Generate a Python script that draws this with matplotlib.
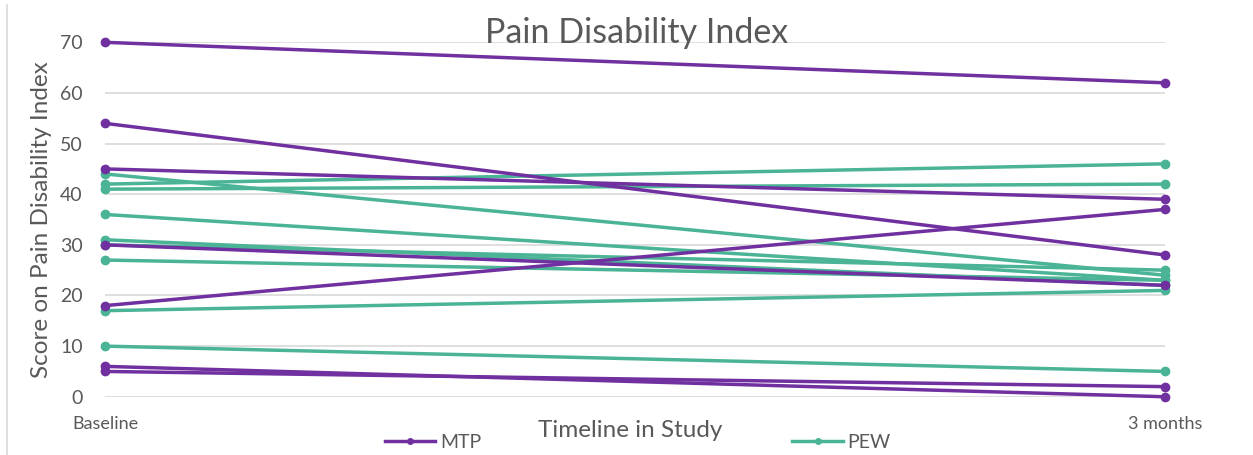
import matplotlib.pyplot as plt
from matplotlib.lines import Line2D

# paired scores per participant: baseline -> 3 months
categories = ['Baseline', '3 months']
mtp_baseline = [70, 54, 45, 30, 18, 6, 5]
mtp_3months = [62, 28, 39, 22, 37, 0, 2]
pew_baseline = [44, 42, 41, 36, 31, 30, 27, 17, 10]
pew_3months = [24, 46, 42, 23, 22, 25, 23, 21, 5]

PURPLE = '#7030A0'
TEAL = '#4BB496'
TXT = '#595959'

plt.rcParams['font.family'] = ['Lato', 'DejaVu Sans']


def main():
    fig = plt.figure(figsize=(12.53, 4.55), dpi=100)
    ax = fig.add_axes([0.0838, 0.128, 0.846, 0.779])

    x = [0, 1]
    for b, m in zip(pew_baseline, pew_3months):
        ax.plot(x, [b, m], color=TEAL, lw=2.5, marker='o', ms=6,
                clip_on=False, zorder=3)
    for b, m in zip(mtp_baseline, mtp_3months):
        ax.plot(x, [b, m], color=PURPLE, lw=2.5, marker='o', ms=6,
                clip_on=False, zorder=4)

    ax.set_xlim(0, 1)
    ax.set_ylim(0, 70)
    ax.set_yticks(range(0, 71, 10))
    ax.set_xticks(x)
    ax.set_xticklabels(categories)
    ax.grid(axis='y', color='#d9d9d9', lw=1.2)
    ax.set_axisbelow(True)
    for s in ax.spines.values():
        s.set_visible(False)
    ax.tick_params(axis='y', length=0, labelsize=14, labelcolor=TXT, pad=16)
    ax.tick_params(axis='x', length=0, labelsize=13, labelcolor=TXT, pad=14)

    ax.set_ylabel('Score on Pain Disability Index', fontsize=17.5, color=TXT,
                  labelpad=6)
    fig.text(0.503, 0.053, 'Timeline in Study', fontsize=17.5, color=TXT,
             ha='center', va='center')
    fig.text(0.508, 0.928, 'Pain Disability Index', fontsize=24.5, color=TXT,
             ha='center', va='center')

    handles = [Line2D([], [], color=PURPLE, lw=2.5, marker='o', ms=4),
               Line2D([], [], color=TEAL, lw=2.5, marker='o', ms=4)]
    fig.legend(handles, ['MTP', 'PEW'], loc='center', ncol=2,
               bbox_to_anchor=(0.509, 0.028), frameon=False, fontsize=14,
               labelcolor=TXT, handlelength=2.6, handletextpad=0.25,
               columnspacing=16)

    # chart frame edge on the left
    fig.add_artist(Line2D([0.0056, 0.0056], [0, 0.99], color='#d9d9d9', lw=1.2))

    fig.savefig('out.png', dpi=100)


if __name__ == '__main__':
    main()
